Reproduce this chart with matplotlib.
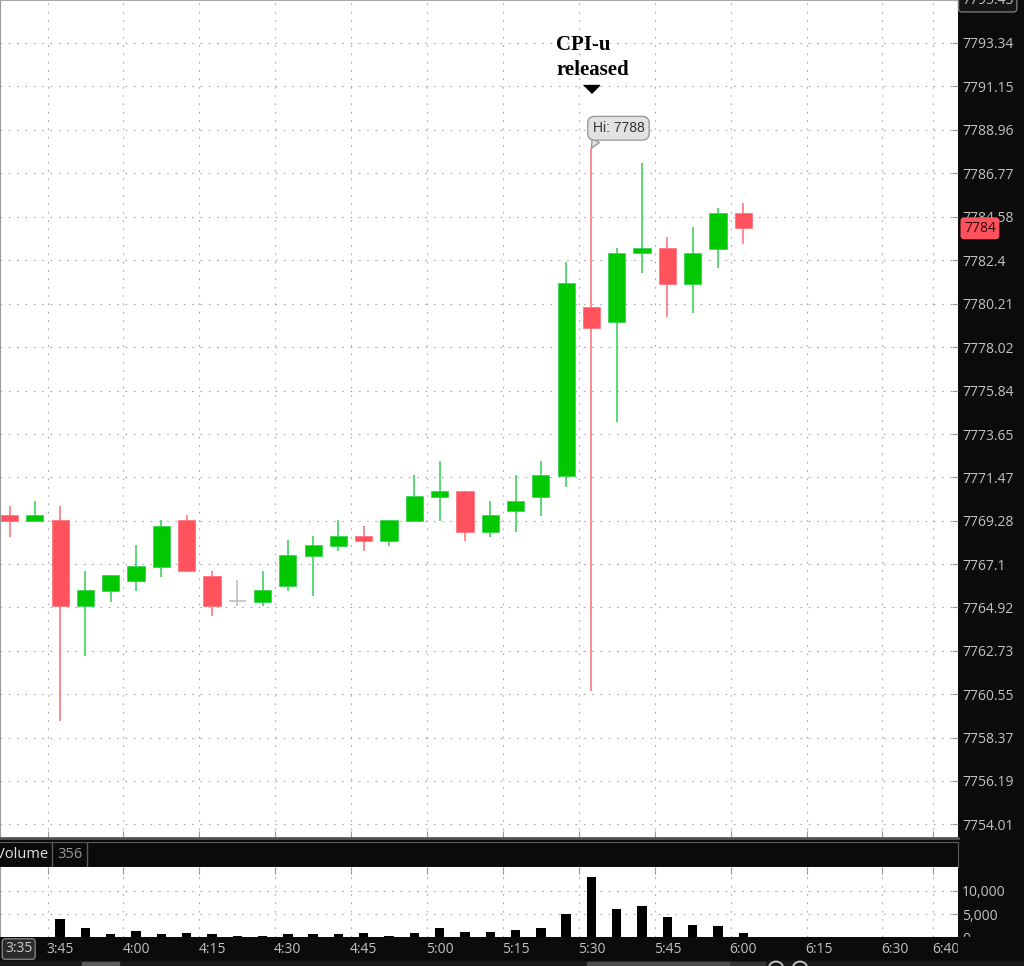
import numpy as np
import matplotlib
matplotlib.use('Agg')
import matplotlib.pyplot as plt
from matplotlib import transforms
from matplotlib.patches import Rectangle, Circle

plt.rcParams['font.family'] = ['Open Sans', 'DejaVu Sans']

# 5-minute candles, 3:35 -> 6:00
times = ['3:35', '3:40', '3:45', '3:50', '3:55', '4:00', '4:05', '4:10', '4:15', '4:20',
         '4:25', '4:30', '4:35', '4:40', '4:45', '4:50', '4:55', '5:00', '5:05', '5:10',
         '5:15', '5:20', '5:25', '5:30', '5:35', '5:40', '5:45', '5:50', '5:55', '6:00']
opens = [7769.57, 7769.29, 7769.30, 7765.00, 7765.76, 7766.25, 7766.97, 7769.31, 7766.52, 7765.24,
         7765.21, 7766.00, 7767.53, 7768.00, 7768.53, 7768.25, 7769.29, 7770.50, 7770.78, 7768.73,
         7769.77, 7770.50, 7771.54, 7780.06, 7779.28, 7782.75, 7783.02, 7781.22, 7782.98, 7784.80]
highs = [7770.03, 7770.28, 7770.04, 7766.77, 7766.54, 7768.05, 7769.31, 7769.56, 7766.75, 7766.29,
         7766.77, 7768.30, 7768.53, 7769.31, 7769.02, 7769.32, 7771.57, 7772.29, 7770.78, 7770.28,
         7771.57, 7772.29, 7782.30, 7788.04, 7783.02, 7787.28, 7783.56, 7784.06, 7785.02, 7785.27]
lows = [7768.47, 7769.29, 7759.22, 7762.47, 7765.21, 7765.76, 7766.47, 7766.74, 7764.49, 7765.00,
        7765.00, 7765.76, 7765.51, 7767.76, 7767.76, 7768.00, 7769.29, 7769.29, 7768.25, 7768.48,
        7768.73, 7769.51, 7770.97, 7760.73, 7774.24, 7781.78, 7779.53, 7779.76, 7782.03, 7783.22]
closes = [7769.27, 7769.56, 7765.00, 7765.80, 7766.54, 7767.00, 7769.00, 7766.74, 7765.00, 7765.24,
          7765.80, 7767.56, 7768.05, 7768.53, 7768.25, 7769.32, 7770.53, 7770.78, 7768.73, 7769.56,
          7770.29, 7771.57, 7781.27, 7778.97, 7782.78, 7783.02, 7781.22, 7782.78, 7784.80, 7784.01]
volumes = [0, 0, 3900, 2100, 640, 1360, 640, 860, 640, 360,
           360, 640, 640, 640, 860, 360, 860, 1930, 1070, 1070,
           1640, 1930, 4930, 12940, 6000, 6790, 4430, 2650, 2430, 860]

price_ticks = [7754.01, 7756.19, 7758.37, 7760.55, 7762.73, 7764.92, 7767.1, 7769.28, 7771.47,
               7773.65, 7775.84, 7778.02, 7780.21, 7782.4, 7784.58, 7786.77, 7788.96, 7791.15, 7793.34]
time_ticks = ['3:45', '4:00', '4:15', '4:30', '4:45', '5:00', '5:15', '5:30',
              '5:45', '6:00', '6:15', '6:30', '6:40']
vol_ticks = [0, 5000, 10000]
vol_labels = ['0', '5,000', '10,000']


def to_min(s):
    h, m = s.split(':')
    return int(h) * 60 + int(m)


W, H = 1024, 966


def box(x0, y0, x1, y1):
    # pixel rectangle (top-left origin) -> figure fraction
    return [x0 / W, 1 - y1 / H, (x1 - x0) / W, (y1 - y0) / H]


o = np.array(opens); c = np.array(closes)
hi = np.array(highs); lo = np.array(lows)
x = np.array([to_min(t) for t in times]) + 2.5
tick_x = [to_min(t) for t in time_ticks]
xlim = (215.61, 404.94)

GREEN, GREEN_W = '#00c800', '#2fcf50'
RED, RED_W = '#ff525c', '#ff6b75'
GRAY = '#bbbbbb'
LBL = '#c2c2c2'
grid_kw = dict(color='#a8a8a8', ls=(0, (1.5, 6)), lw=0.8)

body_col = [GREEN if cc > oo else RED if cc < oo else GRAY for oo, cc in zip(o, c)]
wick_col = [GREEN_W if cc > oo else RED_W if cc < oo else GRAY for oo, cc in zip(o, c)]

fig = plt.figure(figsize=(10.24, 9.66), dpi=100, facecolor='#0b0b0b')

# ---- price panel ----
ax = fig.add_axes(box(0, 0, 958, 838))
ax.set_facecolor('white')
ax.set_xlim(xlim)
ax.set_ylim(7753.31, 7795.505)
ax.set_axisbelow(True)

ax.vlines(x, lo, hi, colors=wick_col, lw=1.1, zorder=2)
solid = c != o
ax.bar(x[solid], np.abs(c - o)[solid], bottom=np.minimum(o, c)[solid], width=3.4,
       color=np.array(body_col)[solid], edgecolor=np.array(wick_col)[solid], lw=0.5, zorder=3)
ax.hlines(c[~solid], x[~solid] - 1.7, x[~solid] + 1.7, colors=GRAY, lw=1.1, zorder=3)

ax.yaxis.tick_right()
ax.set_yticks(price_ticks)
ax.set_yticklabels([str(v) for v in price_ticks])
ax.set_xticks(tick_x)
ax.set_xticklabels([])
ax.grid(True, **grid_kw)
ax.tick_params(axis='y', direction='in', length=4, color='#999999', labelcolor=LBL,
               labelsize=10, pad=3)
ax.tick_params(axis='x', direction='in', length=5, color='#999999', bottom=True, top=False)
ax.spines['right'].set_visible(False)
ax.spines['left'].set_color('#9a9a9a')
ax.spines['top'].set_color('#aaaaaa')
ax.spines['bottom'].set_color('#555555')
ax.spines['bottom'].set_linewidth(2)

# CPI annotation at the 5:30 candle
k = times.index('5:30')
xh, yh = x[k], hi[k]
tri_tr = transforms.offset_copy(ax.transData, fig=fig, x=0, y=58.8, units='dots')
ax.plot([xh], [yh], marker=[(-1, 0.5), (1, 0.5), (0, -0.5)], ms=11.5, color='black',
        transform=tri_tr, clip_on=False, zorder=5)
for txt, dy in [('CPI-u', 98), ('released', 73)]:
    ax.annotate(txt, xy=(xh, yh), xytext=(-35, dy), textcoords='offset pixels',
                ha='left', va='baseline', fontsize=15, fontweight='bold',
                family='Liberation Serif', color='black')
ax.annotate('Hi: 7788', xy=(xh, yh), xytext=(27, 20), textcoords='offset pixels',
            ha='center', va='center', fontsize=10, color='#333333', family='Liberation Sans',
            bbox=dict(boxstyle='round,pad=0.35,rounding_size=0.5', fc='#e2e2e2', ec='#9a9a9a', lw=1),
            arrowprops=dict(arrowstyle='wedge,tail_width=0.6,shrink_factor=0.5', fc='#e2e2e2',
                            ec='#9a9a9a', lw=1, relpos=(0.12, 0.0), shrinkA=0, shrinkB=0),
            zorder=6)

# current price tag
ax.annotate('7784', xy=(1, closes[-1]), xycoords=('axes fraction', 'data'), xytext=(6, 0),
            textcoords='offset pixels', ha='left', va='center', fontsize=10, color='#2a0a0a',
            bbox=dict(boxstyle='round,pad=0.2', fc=RED, ec=RED), annotation_clip=False)
fig.text(962 / W, 1 - 1 / H, '7795.43', ha='left', va='center', color=LBL, fontsize=10,
         bbox=dict(boxstyle='round,pad=0.25', fc='#151515', ec='#777777'))

# ---- volume header ----
hdr = fig.add_axes(box(0, 842, 958, 866.7))
hdr.set_facecolor('#0b0b0b')
hdr.set_xlim(0, 958)
hdr.set_ylim(0, 1)
hdr.set_xticks([]); hdr.set_yticks([])
for s in hdr.spines.values():
    s.set_color('#5a5a5a')
hdr.spines['left'].set_visible(False)
hdr.axvline(52.3, color='#5a5a5a', lw=1)
hdr.axvline(87.3, color='#5a5a5a', lw=1)
hdr.text(-4, 0.5, 'Volume', ha='left', va='center', color='#e4e4e4', fontsize=10.5)
hdr.text(57, 0.5, '356', ha='left', va='center', color='#9a9a9a', fontsize=10.5)

# ---- volume panel ----
vax = fig.add_axes(box(0, 867, 958, 937.3))
vax.set_facecolor('white')
vax.set_xlim(xlim)
vax.set_ylim(0, 15090)
vax.set_axisbelow(True)
vax.bar(x, volumes, width=1.85, color='black', zorder=3)
vax.yaxis.tick_right()
vax.set_yticks(vol_ticks)
vax.set_yticklabels(vol_labels)
vax.set_xticks(tick_x)
vax.set_xticklabels([])
vax.grid(True, **grid_kw)
vax.tick_params(axis='y', direction='in', length=4, color='#999999', labelcolor=LBL,
                labelsize=10, pad=3)
vax.tick_params(axis='x', direction='in', length=5, color='#999999', bottom=False, top=True)
for s in ['right', 'top', 'bottom']:
    vax.spines[s].set_visible(False)
vax.spines['left'].set_color('#9a9a9a')

# ---- time axis band ----
band = fig.add_axes(box(0, 937.3, 958, 966))
band.set_facecolor('#0b0b0b')
band.set_xlim(xlim)
band.set_ylim(0, 1)
band.set_xticks([]); band.set_yticks([])
for s in band.spines.values():
    s.set_visible(False)
for t, lab in zip(tick_x, time_ticks):
    band.text(t - 0.2, 0.59, lab, ha='left', va='center', color=LBL, fontsize=10)
fig.text(5 / W, 1 - 949 / H, '3:35', ha='left', va='center', color='#cfcfcf', fontsize=10,
         bbox=dict(boxstyle='round,pad=0.2', fc='#2a2a2a', ec='#808080'))

# band continues under the right-hand scale (cuts the "0" label like the original)
fig.add_artist(Rectangle((958 / W, 0), 66 / W, 28.7 / H, transform=fig.transFigure,
                         color='#0b0b0b', zorder=9))

# scrollbar strip and nav icons
fig.add_artist(Rectangle((0, 0), 1, 5 / H, transform=fig.transFigure, color='#181818', zorder=10))
for x0, x1, col in [(82, 119, '#5a5a5a'), (587, 730, '#4c4c4c'), (730, 765, '#333333')]:
    fig.add_artist(Rectangle((x0 / W, 0), (x1 - x0) / W, 4.5 / H, transform=fig.transFigure,
                             color=col, zorder=11))
for cx in [776, 800]:
    fig.add_artist(Circle((cx, H - 969), 7.5, transform=None, fill=False, ec='#cccccc',
                          lw=1.3, zorder=12))

fig.savefig('out.png', dpi=100, facecolor=fig.get_facecolor())
